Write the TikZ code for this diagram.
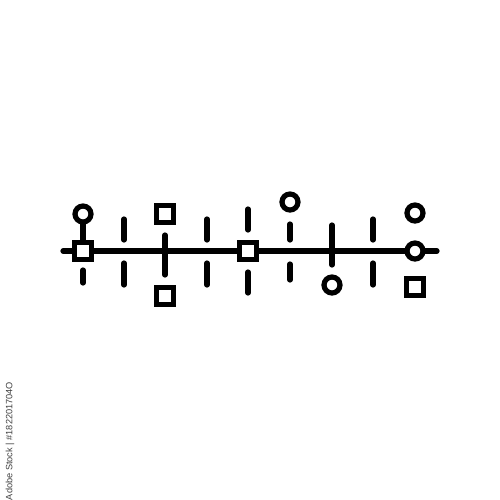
\documentclass[tikz,border=0pt]{standalone}
\usepackage{fontspec}
\setmainfont{Liberation Sans}
\begin{document}
\begin{tikzpicture}[x=0.5pt,y=-0.5pt, line width=2.6pt, line cap=round,
  sq/.style={draw, rectangle, minimum size=8.5pt, inner sep=0pt, fill=white},
  ci/.style={draw, circle, minimum size=8pt, inner sep=0pt, fill=white},
  tick/.style={line width=2.6pt, line cap=round},
  wm/.style={text=black!75, font=\fontsize{4.6}{5}\selectfont, rotate=90, inner sep=0pt}]
\useasboundingbox (0,0) rectangle (500,500);
% main line
\coordinate (L) at (63,251);
\coordinate (R) at (437,251);
\draw (L) -- (R);
% group 1
\node[sq] (s1) at (83,251) {};
\node[ci] (c1) at (83,214) {};
\draw (c1) -- (s1);
\coordinate (a1) at (83,270); \coordinate (b1) at (83,283);
\draw[tick] (a1) -- (b1);
% group 2
\coordinate (a2) at (124,219); \coordinate (b2) at (124,240);
\coordinate (c2) at (124,263); \coordinate (d2) at (124,285);
\draw[tick] (a2) -- (b2); \draw[tick] (c2) -- (d2);
% group 3
\node[sq] (s3a) at (165,214) {};
\node[sq] (s3b) at (165,296) {};
\coordinate (a3) at (165,235); \coordinate (b3) at (165,275);
\draw[tick] (a3) -- (b3);
% group 4
\coordinate (a4) at (207,219); \coordinate (b4) at (207,240);
\coordinate (c4) at (207,263); \coordinate (d4) at (207,285);
\draw[tick] (a4) -- (b4); \draw[tick] (c4) -- (d4);
% group 5
\node[sq] (s5) at (248,251) {};
\coordinate (a5) at (248,209); \coordinate (b5) at (248,230);
\coordinate (c5) at (248,272); \coordinate (d5) at (248,293);
\draw[tick] (a5) -- (b5); \draw[tick] (c5) -- (d5);
% group 6
\node[ci] (c6) at (290,202) {};
\coordinate (a6) at (290,224); \coordinate (b6) at (290,240);
\coordinate (c6a) at (290,264); \coordinate (d6) at (290,280);
\draw[tick] (a6) -- (b6); \draw[tick] (c6a) -- (d6);
% group 7
\node[ci] (c7) at (332,285) {};
\coordinate (a7) at (332,225); \coordinate (b7) at (332,265);
\draw[tick] (a7) -- (b7);
% group 8
\coordinate (a8) at (373,219); \coordinate (b8) at (373,240);
\coordinate (c8) at (373,263); \coordinate (d8) at (373,285);
\draw[tick] (a8) -- (b8); \draw[tick] (c8) -- (d8);
% group 9
\node[ci] (c9a) at (415,213) {};
\node[ci] (c9b) at (415,251) {};
\node[sq] (s9) at (415,287) {};
% side text
\node[wm] (wmtext) at (10,441) {Adobe Stock | \#182201704O};
\end{tikzpicture}
\end{document}
